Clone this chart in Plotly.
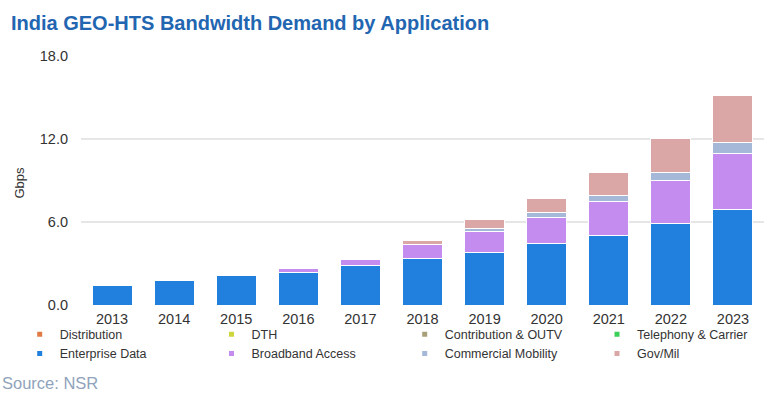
import plotly.graph_objects as go

years = ["2013", "2014", "2015", "2016", "2017", "2018", "2019", "2020", "2021", "2022", "2023"]

distribution = [0, 0, 0, 0, 0, 0, 0, 0, 0, 0, 0]
dth = [0, 0, 0, 0, 0, 0, 0, 0, 0, 0, 0]
contribution_outv = [0, 0, 0, 0, 0, 0, 0, 0, 0, 0, 0]
telephony_carrier = [0, 0, 0, 0, 0, 0, 0, 0, 0, 0, 0]
enterprise_data = [1.42, 1.78, 2.11, 2.37, 2.83, 3.38, 3.83, 4.43, 5.03, 5.86, 6.89]
broadband_access = [0, 0, 0, 0.24, 0.48, 0.96, 1.51, 1.91, 2.45, 3.17, 4.03]
commercial_mobility = [0, 0, 0, 0, 0, 0, 0.21, 0.33, 0.46, 0.57, 0.81]
gov_mil = [0, 0, 0, 0, 0, 0.31, 0.60, 1.03, 1.64, 2.46, 3.38]

series_names = ["Distribution", "DTH", "Contribution & OUTV", "Telephony & Carrier",
                "Enterprise Data", "Broadband Access", "Commercial Mobility", "Gov/Mil"]
series_values = [distribution, dth, contribution_outv, telephony_carrier,
                 enterprise_data, broadband_access, commercial_mobility, gov_mil]
series_colors = ["#e07b45", "#cdd63c", "#a89f78", "#3ccf5a",
                 "#2180de", "#c58cf0", "#a6b8d8", "#dba6a6"]
# legend column (1-4) for each series, laid out in two rows of four
legend_ids = ["legend", "legend2", "legend3", "legend4",
              "legend", "legend2", "legend3", "legend4"]

y_ticks = [0, 6, 12, 18]

FONT = "Liberation Sans, Arial, Helvetica, sans-serif"

fig = go.Figure()
for name, vals, col in zip(series_names, series_values, series_colors):
    fig.add_trace(go.Bar(
        x=years, y=vals, name=name, legendgroup=name, showlegend=False,
        marker=dict(color=col, line=dict(color="white", width=1)),
    ))
for name, col, lg in zip(series_names, series_colors, legend_ids):
    fig.add_trace(go.Scatter(
        x=[None], y=[None], mode="markers", name=name, legendgroup=name,
        legend=lg, marker=dict(symbol="square", size=5, color=col),
    ))

legend_text_x = [67.7, 259.5, 452.7, 645]
legend_top = 319.5


def legend_cfg(text_x):
    return dict(
        orientation="v", xref="container", yref="container",
        x=(text_x - 48) / 772, xanchor="left",
        y=1 - legend_top / 393, yanchor="top",
        font=dict(size=12.5, color="#333333", family=FONT),
        traceorder="normal", itemsizing="trace",
        bgcolor="rgba(0,0,0,0)", tracegroupgap=2,
    )


fig.update_layout(
    width=772, height=393,
    margin=dict(l=81, r=8, t=56, b=88, autoexpand=False),
    paper_bgcolor="white", plot_bgcolor="white",
    barmode="stack", bargap=0.355,
    font=dict(family=FONT, color="#333333"),
    title=dict(
        text="India GEO-HTS Bandwidth Demand by Application",
        x=11 / 772, xanchor="left", xref="container",
        y=1 - 22.7 / 393, yanchor="middle", yref="container",
        font=dict(size=20, color="#2266b1", family=FONT, weight="bold"),
    ),
    xaxis=dict(
        type="category", showgrid=False, showline=False, zeroline=False,
        tickfont=dict(size=14.5, color="#333333"), ticks="",
        ticklabelstandoff=3,
    ),
    yaxis=dict(
        range=[0, 18], tickvals=y_ticks, tickformat=".1f",
        showgrid=True, gridcolor="#e6e6e6", gridwidth=1.5,
        zeroline=False, showline=False, ticks="",
        tickfont=dict(size=14.5, color="#333333"),
        ticklabelstandoff=12,
    ),
    legend=legend_cfg(legend_text_x[0]),
    legend2=legend_cfg(legend_text_x[1]),
    legend3=legend_cfg(legend_text_x[2]),
    legend4=legend_cfg(legend_text_x[3]),
    annotations=[
        dict(
            text="Source: NSR", xref="paper", yref="paper",
            x=(0 - 81) / 683, xanchor="left",
            y=(305 - 383.3) / 249, yanchor="middle",
            showarrow=False, font=dict(size=16.5, color="#8fa3bb"),
        ),
        dict(
            text="Gbps", xref="paper", yref="paper",
            x=(18.5 - 81) / 683, xanchor="center",
            y=(305 - 183) / 249, yanchor="middle", textangle=-90,
            showarrow=False, font=dict(size=13, color="#333333"),
        ),
    ],
)

fig.write_html("out.html", config={"displayModeBar": False},
               post_script="document.body.style.margin='0';")
